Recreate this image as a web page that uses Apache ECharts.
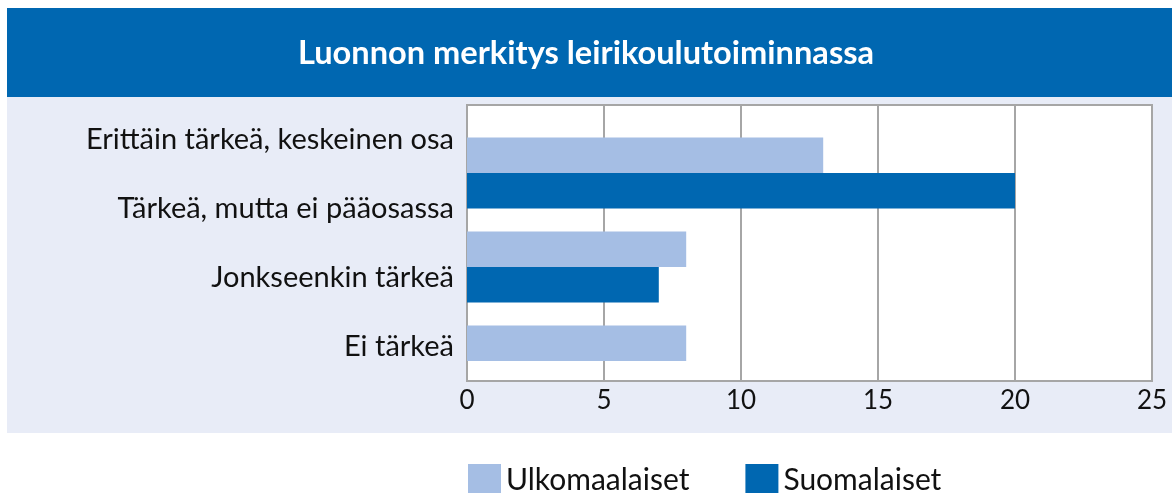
<!DOCTYPE html>
<html>
<head>
<meta charset="utf-8">
<script src="https://cdn.jsdelivr.net/npm/echarts@6/dist/echarts.min.js"></script>
<style>
  html, body { margin: 0; padding: 0; background: #fff; }
  #chart { width: 1172px; height: 493px; }
</style>
</head>
<body>
<div id="chart"></div>
<script>
// otsikko ja luokat
var title = 'Luonnon merkitys leirikoulutoiminnassa';
var labels = ['Erittäin tärkeä, keskeinen osa', 'Tärkeä, mutta ei pääosassa', 'Jonkseenkin tärkeä', 'Ei tärkeä'];
// pylväsryhmät sellaisina kuin ne kuvassa piirtyvät
var groups = ['r1', 'r2', 'r3'];
var ulkomaalaiset = [13, 8, 8];
var suomalaiset = [20, 7, 0];
var xMin = 0, xMax = 25, xStep = 5;

var colors = ['#a5bee4', '#0067b1'];
var font = 'Lato, "Open Sans", sans-serif';

var chart = echarts.init(document.getElementById('chart'));

var option = {
    animation: false,
    backgroundColor: '#fff',
    color: colors,
    graphic: [
        { type: 'rect', z: -10, shape: { x: 7, y: 97, width: 1165, height: 336 }, style: { fill: '#e8ecf7' } },
        { type: 'rect', z: -10, shape: { x: 7, y: 8, width: 1165, height: 89 }, style: { fill: '#0067b1' } },
        {
            type: 'text', left: 'center', top: 37,
            style: { text: title, fill: '#fff', font: 'bold 32.6px ' + font }
        }
    ],
    legend: {
        left: 463,
        top: 459,
        itemWidth: 33,
        itemHeight: 33,
        itemGap: 56,
        icon: 'rect',
        textStyle: { fontFamily: font, fontSize: 30, color: '#111' },
        data: ['Ulkomaalaiset', 'Suomalaiset']
    },
    grid: [
        {
            left: 467, right: 20, top: 105, bottom: 112,
            show: true, backgroundColor: '#fff',
            borderColor: '#a6a6a6', borderWidth: 2,
            containLabel: false
        },
        {
            left: 467, right: 20, top: 126, height: 282,
            containLabel: false
        }
    ],
    xAxis: [
        {
            gridIndex: 0, type: 'value', min: xMin, max: xMax, interval: xStep,
            axisLine: { show: true, lineStyle: { color: '#a6a6a6', width: 2 } },
            axisTick: { show: false },
            axisLabel: { color: '#111', fontFamily: font, fontSize: 26, margin: 7 },
            splitLine: { show: true, lineStyle: { color: '#a6a6a6', width: 2 } }
        },
        {
            gridIndex: 1, type: 'value', min: xMin, max: xMax, show: false
        }
    ],
    yAxis: [
        {
            gridIndex: 0, type: 'category', inverse: true, data: labels,
            axisLine: { show: true, lineStyle: { color: '#a6a6a6', width: 2 } },
            axisTick: { show: false },
            axisLabel: { color: '#111', fontFamily: font, fontSize: 29, margin: 13 }
        },
        {
            gridIndex: 1, type: 'category', inverse: true, data: groups, show: false
        }
    ],
    series: [
        {
            name: 'Ulkomaalaiset', type: 'bar', xAxisIndex: 1, yAxisIndex: 1,
            barWidth: 35.5, barGap: '0%', data: ulkomaalaiset
        },
        {
            name: 'Suomalaiset', type: 'bar', xAxisIndex: 1, yAxisIndex: 1,
            barWidth: 35.5, barGap: '0%', data: suomalaiset
        }
    ]
};

chart.setOption(option);
</script>
</body>
</html>
